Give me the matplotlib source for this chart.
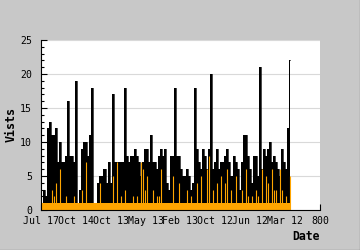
import numpy as np
import matplotlib
matplotlib.use("Agg")
import matplotlib.pyplot as plt
from matplotlib.lines import Line2D

# visits per bucket (black) and the orange series beneath it
visits = [
    1, 3, 2, 12, 13, 11, 11, 12, 7, 10, 7, 7, 8, 16, 8, 8, 7, 19, 1, 3,
    9, 10, 10, 8, 11, 18, 1, 1, 4, 5, 5, 6,
    6, 4, 7, 4, 17, 7, 7, 7, 7, 7, 18, 8, 7, 8, 8, 9, 8, 7, 5, 7,
    9, 9, 7, 11, 7, 7, 6, 8, 9, 8, 9,
    4, 3, 8, 8, 18, 8, 8, 6, 5, 5, 6, 5, 3, 4, 18, 9, 7, 6, 9, 8,
    6, 9, 20, 6, 7, 9, 6, 7, 7, 8, 9, 7,
    5, 5, 8, 7, 6, 3, 7, 11, 11, 8, 6, 4, 8, 8, 5, 21, 6, 9, 8, 9,
    10, 7, 8, 7, 6, 5, 9, 7, 6, 12, 22,
]
unique = [
    1, 1, 1, 1, 1, 3, 2, 4, 1, 6, 1, 1, 2, 1, 1, 1, 2, 1, 1, 1,
    3, 1, 7, 1, 1, 1, 1, 1, 1, 4, 1, 1, 1, 1, 1, 1, 5, 1, 7, 1,
    2, 1, 3, 1, 1, 1, 2, 1, 2, 1, 7, 6, 3, 5, 1, 1, 3, 1, 2, 2,
    6, 1, 1, 1, 1, 1, 5, 1, 1, 4, 1, 1, 1, 3, 1, 2, 1, 1, 4, 1,
    5, 1, 1, 6, 8, 1, 3, 1, 4, 1, 5, 1, 4, 6, 1, 3, 1, 1, 5, 1,
    1, 3, 1, 6, 2, 1, 2, 1, 3, 2, 1, 6, 1, 5, 4, 1, 6, 3, 3, 1,
    6, 3, 1, 2, 1, 5,
]
tick_labels = ["Jul 17", "Oct 14", "Oct 13", "May 13", "Feb 13",
               "Oct 12", "Jun 12", "Mar 12", "800"]

plt.rcParams["font.family"] = "DejaVu Sans Mono"

fig = plt.figure(figsize=(3.6, 2.5), dpi=100, facecolor="#c8c8c8")
ax = fig.add_axes([41 / 360, 40 / 250, 279 / 360, 170 / 250])
ax.set_facecolor("white")

x = np.arange(len(visits))
ax.fill_between(x, visits, step="mid", color="black", lw=0, zorder=2)
ax.step(x, visits, where="mid", color="black", lw=0.5, zorder=2)

# orange: solid floor band plus thin spikes
ax.fill_between(x, np.minimum(unique, 1), step="mid", color="#ffa500",
                lw=0, zorder=3)
ax.vlines(x, 0, unique, color="#ffa500", lw=0.8, zorder=3)

ax.set_xlim(-0.5, 140.1)
ax.set_ylim(0, 25)

# grid
ax.set_yticks(np.arange(0, 26, 5))
ax.set_yticks(np.arange(0, 26, 1), minor=True)
ax.yaxis.grid(True, which="major", color="#d9d9d9", lw=0.8)
ax.set_axisbelow(True)

ax.set_xticks(np.linspace(-0.5, 140.1, 9))
ax.set_xticklabels(tick_labels)

for s in ["top", "right"]:
    ax.spines[s].set_visible(False)
for s in ["left", "bottom"]:
    ax.spines[s].set_linewidth(0.8)
    ax.spines[s].set_zorder(5)

ax.tick_params(axis="y", which="major", direction="in", length=4,
               width=0.8, labelsize=7.1, pad=6.5)
ax.tick_params(axis="y", which="minor", direction="in", length=2.5, width=0.8)
ax.tick_params(axis="x", direction="in", length=4.3, width=0.8,
               labelsize=7.1, pad=4.5)

ax.set_ylabel("Vists", fontsize=8.4, fontweight="bold")
ax.yaxis.set_label_coords(-0.085, 0.5)
ax.set_xlabel("Date", fontsize=8.3, fontweight="bold", loc="right")
ax.xaxis.set_label_coords(1.0, -0.115)

# dark edge on right and bottom of the figure
fig.add_artist(Line2D([359.5 / 360, 359.5 / 360], [0, 1],
                      transform=fig.transFigure, color="black", lw=0.8))
fig.add_artist(Line2D([0, 1], [0.5 / 250, 0.5 / 250],
                      transform=fig.transFigure, color="black", lw=0.8))

fig.savefig("out.png", dpi=100, facecolor=fig.get_facecolor())
